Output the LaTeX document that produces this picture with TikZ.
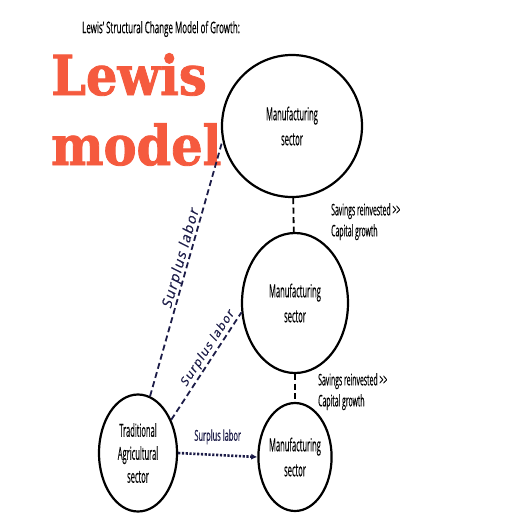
\documentclass[tikz,border=0pt]{standalone}
\usepackage{fontspec}
\usetikzlibrary{arrows.meta,shapes.geometric}
\setmainfont[FakeBold=0.4]{Open Sans}
\newfontfamily\spacedslant[FakeSlant=0.2,FakeBold=0.4,LetterSpace=10]{Open Sans}
\newfontfamily\slabfont[FakeStretch=0.9,FakeBold=1.5]{DejaVu Serif}
\newcommand{\nar}[2][0.42]{\scalebox{#1}[1]{#2}}
\definecolor{lewisred}{RGB}{245,90,62}
\definecolor{labornavy}{RGB}{28,28,72}

\begin{document}
\begin{tikzpicture}[x=1pt,y=-1pt,
	sector/.style={ellipse,draw,line width=2.2pt,align=center,inner sep=0pt,
		font=\fontsize{18}{25}\selectfont},
	labor/.style={labornavy,line width=1.8pt,dash pattern=on 6pt off 3.5pt},
	note/.style={align=left,anchor=north west,inner sep=0pt,
		font=\fontsize{16}{21}\selectfont}]
	\useasboundingbox[fill=white] (0,0) rectangle (520,520);

	% title and banner
	\node[anchor=west,inner sep=0pt,font=\fontsize{16}{18}\selectfont] (title) at (82,29) {\nar[0.5]{Lewis' Structural Change Model of Growth:}};
	\node[anchor=base west,inner sep=0pt,text=lewisred,font=\slabfont\bfseries\fontsize{55}{60}\selectfont] (lewis) at (51,95) {Lewis};
	\node[anchor=base west,inner sep=0pt,text=lewisred,font=\slabfont\bfseries\fontsize{55}{60}\selectfont] (model) at (51,165) {model};

	% sectors
	\node[sector,minimum width=140pt,minimum height=142pt] (top) at (292,126) {\nar{Manufacturing}\\\nar{sector}};
	\node[sector,minimum width=106pt,minimum height=140pt] (mid) at (295,303) {\nar{Manufacturing}\\\nar{sector}};
	\node[sector,minimum width=68pt,minimum height=108pt] (bot) at (295,457) {\nar{Manufacturing}\\\nar{sector}};
	\node[sector,minimum width=78pt,minimum height=117pt,font=\fontsize{18}{23}\selectfont] (agr) at (138,453) {\nar{Traditional}\\\nar{Agricultural}\\\nar{sector}};

	% savings links
	\draw[labor,black] (top) -- (mid);
	\draw[labor,black] (mid) -- (bot);
	\node[note] (sav1) at (331,203) {\nar[0.43]{Savings reinvested >{}>}\\\nar[0.43]{Capital growth}};
	\node[note] (sav2) at (318,373) {\nar[0.43]{Savings reinvested >{}>}\\\nar[0.43]{Capital growth}};

	% surplus labor
	\draw[labor] (agr.78) -- node[pos=0.53,sloped,above=-1pt,inner sep=0.5pt,font=\spacedslant\fontsize{14}{16}\selectfont]{Surplus labor} (top.192);
	\draw[labor] (agr.45) -- node[pos=0.62,sloped,above=1pt,inner sep=0.5pt,font=\spacedslant\fontsize{12}{14}\selectfont]{Surplus labor} (mid.190);
	\draw[labornavy,line width=2.6pt,dash pattern=on 2.2pt off 1.6pt,-{Latex[length=6pt,width=6pt]}] (agr.east) -- node[above=6pt,font=\fontsize{15}{17}\selectfont]{\nar[0.5]{Surplus labor}} (bot.west);
\end{tikzpicture}
\end{document}
